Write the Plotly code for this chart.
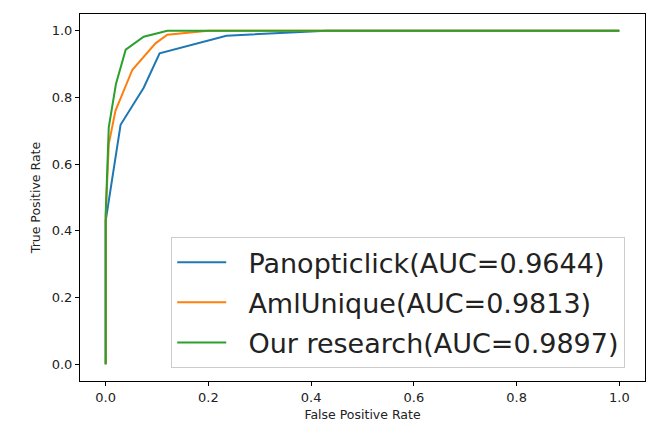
import plotly.graph_objects as go

names = ["Panopticlick(AUC=0.9644)", "AmlUnique(AUC=0.9813)", "Our research(AUC=0.9897)"]
colors = ["#1f77b4", "#ff7f0e", "#2ca02c"]

fpr_pan = [0.0, 0.0, 0.029, 0.074, 0.105, 0.235, 0.43, 1.0]
tpr_pan = [0.0, 0.43, 0.718, 0.829, 0.932, 0.985, 1.0, 1.0]

fpr_aml = [0.0, 0.0, 0.006, 0.019, 0.052, 0.097, 0.12, 0.2, 1.0]
tpr_aml = [0.0, 0.44, 0.66, 0.76, 0.883, 0.962, 0.988, 1.0, 1.0]

fpr_our = [0.0, 0.0, 0.006, 0.02, 0.039, 0.074, 0.12, 1.0]
tpr_our = [0.0, 0.45, 0.71, 0.84, 0.943, 0.982, 1.0, 1.0]

series = [(fpr_pan, tpr_pan), (fpr_aml, tpr_aml), (fpr_our, tpr_our)]

fig = go.Figure()
for i, ((x, y), n, c) in enumerate(zip(series, names, colors)):
    fig.add_trace(go.Scatter(x=x, y=y, mode="lines", name="  " + n, legendgroup=str(i),
                             line=dict(color=c, width=2)))

axis_common = dict(showline=True, linecolor="black", linewidth=1, mirror=True,
                   ticks="outside", ticklen=4, tickcolor="black", showgrid=False,
                   zeroline=False, tickfont=dict(family="DejaVu Sans", size=13, color="#222"),
                   tickformat=".1f", dtick=0.2)

fig.update_layout(
    width=649, height=433,
    margin=dict(l=80, r=4, t=14, b=52),
    paper_bgcolor="white", plot_bgcolor="white",
    font=dict(family="DejaVu Sans", color="#222"),
    xaxis=dict(range=[-0.05, 1.05], title=dict(text="False Positive Rate", font=dict(size=12.5), standoff=6), **axis_common),
    yaxis=dict(range=[-0.05, 1.05], title=dict(text="True Positive Rate", font=dict(size=12.5), standoff=8), **axis_common),
    legend=dict(x=0.965, y=0.035, xanchor="right", yanchor="bottom",
                font=dict(family="DejaVu Sans", size=27, color="#222"),
                bordercolor="#cccccc", borderwidth=1, bgcolor="rgba(255,255,255,0.8)",
                tracegroupgap=2, itemwidth=49),
    showlegend=True,
)

fig.write_html("out.html")
